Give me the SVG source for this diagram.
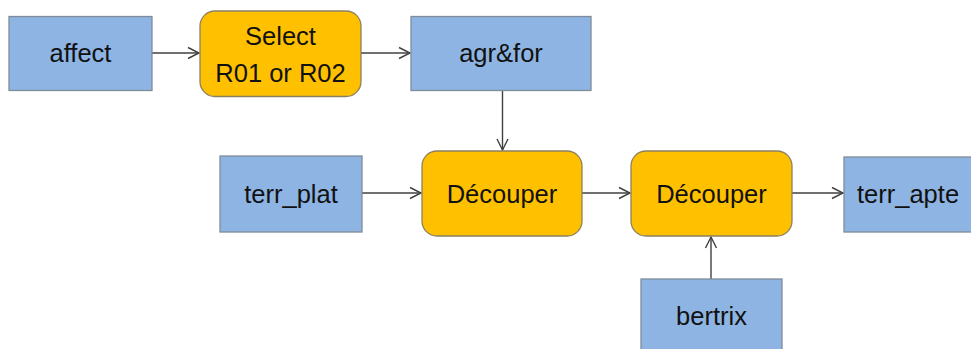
<svg xmlns="http://www.w3.org/2000/svg" width="971" height="349" viewBox="0 0 971 349">
<defs>
<marker id="arr" markerWidth="14" markerHeight="14" refX="12" refY="7" orient="auto" markerUnits="userSpaceOnUse">
<path d="M1,1.5 L12,7 L1,12.5" fill="none" stroke="#404040" stroke-width="1.4"/>
</marker>
<style>
.data{fill:#8EB4E3;stroke:#7F8C99;stroke-width:1.3}
.proc{fill:#FFC000;stroke:#8C8060;stroke-width:1.3}
text{font-family:"Liberation Sans",Arial,sans-serif;font-size:25.5px;fill:#111;text-anchor:middle}
.conn{stroke:#404040;stroke-width:1.4;fill:none;marker-end:url(#arr)}
</style>
</defs>
<rect width="971" height="349" fill="#fff"/>
<g id="connectors">
<line class="conn" x1="152" y1="53" x2="199" y2="53"/>
<line class="conn" x1="361" y1="53" x2="410" y2="53"/>
<line class="conn" x1="502.5" y1="90" x2="502.5" y2="150"/>
<line class="conn" x1="362" y1="193" x2="421" y2="193"/>
<line class="conn" x1="582" y1="193" x2="630" y2="193"/>
<line class="conn" x1="792" y1="193" x2="843" y2="193"/>
<line class="conn" x1="711" y1="279" x2="711" y2="237"/>
</g>
<g id="affect"><rect class="data" x="9" y="16.5" width="143" height="74"/><text x="80.5" y="62">affect</text></g>
<g id="select"><rect class="proc" x="200" y="11" width="161" height="85.5" rx="15"/><text x="280.5" y="45">Select</text><text x="280.5" y="82">R01 or R02</text></g>
<g id="agrfor"><rect class="data" x="411" y="16.5" width="180" height="74"/><text x="501" y="62">agr&amp;for</text></g>
<g id="terr_plat"><rect class="data" x="220" y="156" width="142" height="76"/><text x="291" y="203">terr_plat</text></g>
<g id="decouper1"><rect class="proc" x="422" y="151" width="160" height="85" rx="15"/><text x="502" y="203">Découper</text></g>
<g id="decouper2"><rect class="proc" x="631" y="151" width="161" height="85" rx="15"/><text x="711.5" y="203">Découper</text></g>
<g id="terr_apte"><rect class="data" x="844" y="157" width="140" height="75"/><text x="857" y="203" style="text-anchor:start">terr_apte</text></g>
<g id="bertrix"><rect class="data" x="641" y="279" width="141" height="80"/><text x="711.5" y="325">bertrix</text></g>
</svg>
